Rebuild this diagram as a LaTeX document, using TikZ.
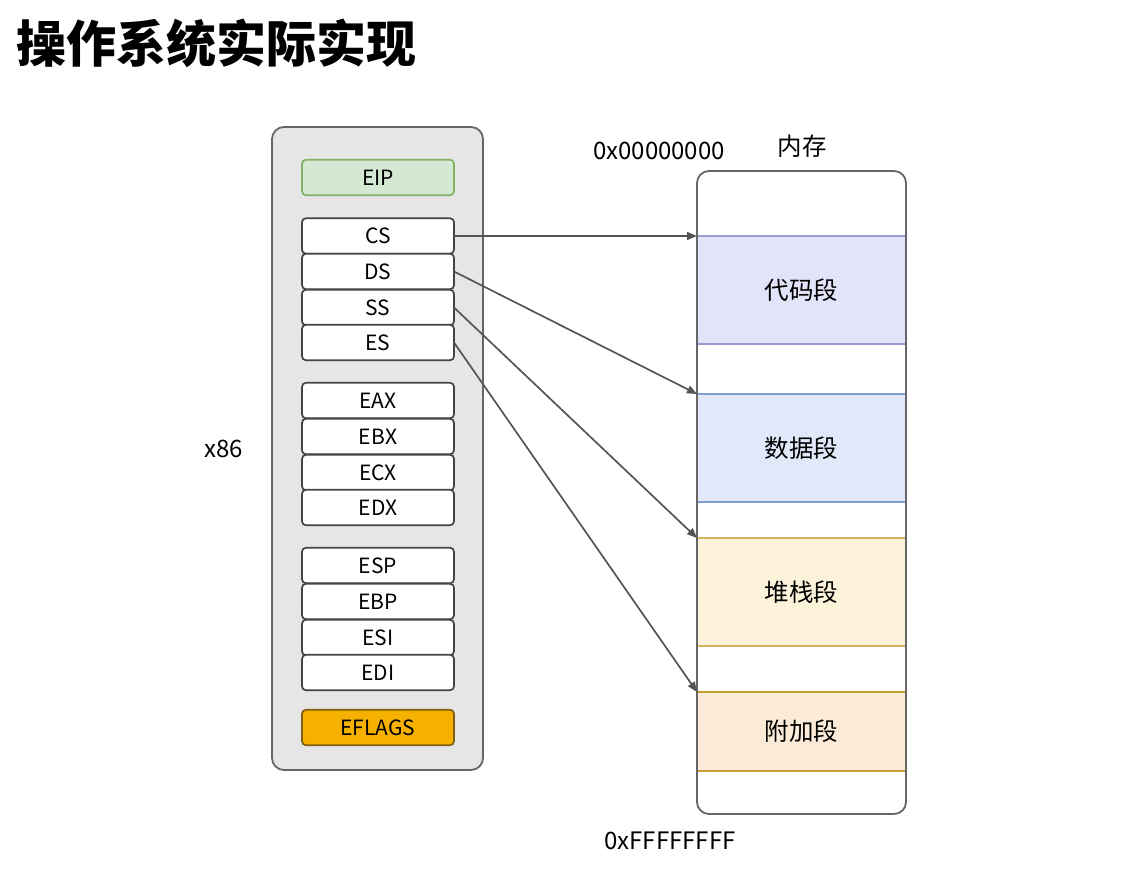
\documentclass[tikz,border=0pt]{standalone}
\usepackage{fontspec}
\setmainfont{Noto Sans CJK SC}
\usetikzlibrary{arrows.meta}
\definecolor{cpufill}{HTML}{E6E6E6}
\definecolor{cpuline}{HTML}{666666}
\definecolor{eipfill}{HTML}{D5E8D4}
\definecolor{eipline}{HTML}{82B366}
\definecolor{flagfill}{HTML}{F5B000}
\definecolor{flagline}{HTML}{7F5F10}
\definecolor{regline}{HTML}{444444}
\definecolor{codefill}{HTML}{E3E3FA}
\definecolor{codeline}{HTML}{9A9AD0}
\definecolor{datafill}{HTML}{E0E8FA}
\definecolor{dataline}{HTML}{7EA0D0}
\definecolor{stackfill}{HTML}{FDF3DA}
\definecolor{stackline}{HTML}{D6B656}
\definecolor{extrafill}{HTML}{FCEBD8}
\definecolor{extraline}{HTML}{C9A030}
\definecolor{arrowline}{HTML}{555555}
\begin{document}
\begin{tikzpicture}[
  x = 1pt, y = -1pt,
  register/.style = {
    shape = rectangle,
    rounded corners = 4pt,
    draw = regline,
    fill = white,
    line width = 1.7pt,
    minimum width = 152pt,
    minimum height = 35.5pt,
    inner sep = 0pt,
    outer sep = 0pt,
    font = \fontsize{21}{21}\selectfont,
  },
  segment/.style = {
    shape = rectangle,
    line width = 2pt,
    minimum width = 209pt,
    inner sep = 0pt,
    outer sep = 0pt,
    font = \fontsize{24.5}{24.5}\selectfont,
  },
  label/.style = {
    inner sep = 0pt,
    font = \fontsize{24}{24}\selectfont,
  }
]
  \useasboundingbox (0, 0) rectangle (1131, 890);

  \node[anchor = west, inner sep = 0pt, font = \fontsize{50}{50}\selectfont\bfseries] (title) at (16, 43) {操作系统实际实现};

  % cpu
  \draw[fill = cpufill, draw = cpuline, line width = 1.8pt, rounded corners = 12pt] (272, 127) rectangle (483, 770);
  \node[label] (x86) at (224, 449) {x86};

  \node[register, fill = eipfill, draw = eipline] (eip) at (378, 177.5) {EIP};

  \node[register] (cs) at (378, 236) {CS};
  \node[register] (ds) at (378, 271.5) {DS};
  \node[register] (ss) at (378, 307.5) {SS};
  \node[register] (es) at (378, 342.5) {ES};

  \node[register] (eax) at (378, 400.5) {EAX};
  \node[register] (ebx) at (378, 436.5) {EBX};
  \node[register] (ecx) at (378, 472.5) {ECX};
  \node[register] (edx) at (378, 507.5) {EDX};

  \node[register] (esp) at (378, 565.5) {ESP};
  \node[register] (ebp) at (378, 601.5) {EBP};
  \node[register] (esi) at (378, 637.5) {ESI};
  \node[register] (edi) at (378, 672.5) {EDI};

  \node[register, fill = flagfill, draw = flagline] (eflags) at (378, 727.5) {EFLAGS};

  % memory
  \draw[fill = white, draw = none, rounded corners = 12pt] (697, 171) rectangle (906, 814);
  \node[segment, fill = codefill, draw = codeline, minimum height = 108pt] (code) at (801.5, 290) {代码段};
  \node[segment, fill = datafill, draw = dataline, minimum height = 108pt] (data) at (801.5, 448) {数据段};
  \node[segment, fill = stackfill, draw = stackline, minimum height = 108pt] (stack) at (801.5, 592) {堆栈段};
  \node[segment, fill = extrafill, draw = extraline, minimum height = 79pt] (extra) at (801.5, 731.5) {附加段};
  \draw[draw = cpuline, line width = 1.8pt, rounded corners = 12pt] (697, 171) rectangle (906, 814);

  \node[label, font = \fontsize{24.5}{24.5}\selectfont] (mem) at (802, 146) {内存};
  \node[label] (low) at (659, 151) {0x00000000};
  \node[label] (high) at (670, 841) {0xFFFFFFFF};

  \begin{scope}[every path/.style = { draw = arrowline, line width = 1.7pt, -{Triangle[length = 10pt, width = 8pt]} }]
    \draw (cs.east) -- (code.north west);
    \draw (ds.east) -- (data.north west);
    \draw (ss.east) -- (stack.north west);
    \draw (es.east) -- (extra.north west);
  \end{scope}
\end{tikzpicture}
\end{document}
